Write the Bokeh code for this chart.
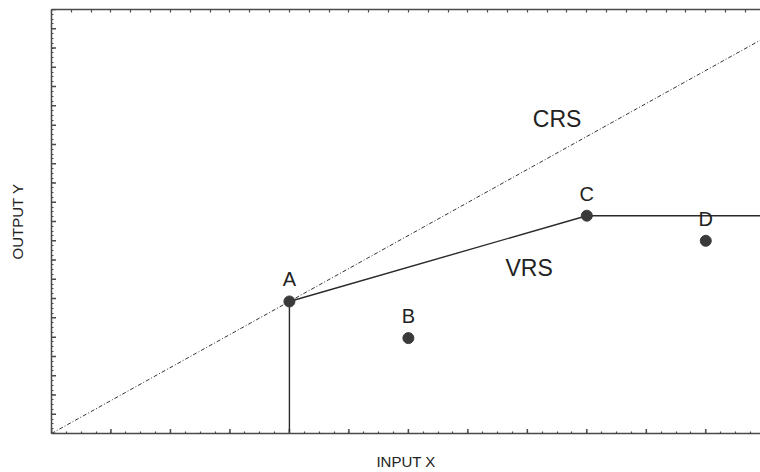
from bokeh.plotting import figure
from bokeh.models import LinearAxis, FixedTicker, Range1d, ColumnDataSource
from bokeh.core.properties import value
from bokeh.embed import file_html
from bokeh.resources import INLINE
import numpy as np

# Data
names = ["A", "B", "C", "D"]
xs = [4.0, 6.0, 9.0, 11.0]
ys = [6.85, 4.95, 11.3, 10.0]
x_max = 11.92
y_max = 22.0

# frontier (VRS): vertical from axis to A, A->C, C horizontal to edge
vrs_x = [xs[0], xs[0], xs[2], x_max]
vrs_y = [0.0, ys[0], ys[2], ys[2]]
# CRS ray through origin and A
crs_x = [0.0, x_max]
crs_y = [0.0, ys[0] / xs[0] * x_max]

region_labels = ["CRS", "VRS"]
region_x = [8.5, 8.03]
region_y = [16.3, 8.6]

x_major = list(range(0, 12))
x_minor = [i * 0.25 for i in range(0, 48)]
y_major = list(range(0, 23))
y_minor = [i * 0.25 for i in range(0, 89)]
x_top = [i / 3 for i in range(0, 36)]

FONT = "Liberation Sans"
AX = "#4a4a4a"

p = figure(width=760, height=472, output_backend="svg", toolbar_location=None,
           x_range=Range1d(0, x_max), y_range=Range1d(0, y_max),
           x_axis_location=None, y_axis_location=None,
           min_border_left=51, min_border_right=0, min_border_top=9, min_border_bottom=38)
p.outline_line_color = None
p.xgrid.visible = False
p.ygrid.visible = False
p.background_fill_color = "white"

def style_axis(ax, label=""):
    ax.axis_label = label if label else None
    ax.axis_label_text_font = FONT
    ax.axis_label_text_font_style = "normal"
    ax.axis_label_text_font_size = "15px"
    ax.axis_label_text_color = "#222222"
    ax.major_tick_out = 0
    ax.minor_tick_out = 0
    ax.major_tick_in = 0
    ax.minor_tick_in = 2
    ax.axis_line_color = AX
    ax.axis_line_width = 1.5
    ax.minor_tick_line_color = AX
    ax.minor_tick_line_width = 1.2

xb = LinearAxis(ticker=FixedTicker(ticks=[], minor_ticks=x_minor))
style_axis(xb, "INPUT X")
xb.axis_label_standoff = 19
p.add_layout(xb, "below")

yl = LinearAxis(ticker=FixedTicker(ticks=[], minor_ticks=y_minor))
style_axis(yl, "OUTPUT Y")
yl.axis_label_standoff = 26
p.add_layout(yl, "left")

xt = LinearAxis(ticker=FixedTicker(ticks=[], minor_ticks=x_top))
style_axis(xt, "")
xt.minor_tick_in = 3
p.add_layout(xt, "above")

# major tick marks (inside the frame) via dash markers centred on the axes
p.scatter(x_major, [0] * len(x_major), marker="dash", size=9, angle=np.pi / 2,
          line_color=AX, line_width=1.5)
p.scatter([0] * len(y_major), y_major, marker="dash", size=9,
          line_color=AX, line_width=1.5)

p.line(crs_x, crs_y, line_color="#333333", line_width=1, line_dash="4 2 1 2")
p.line(vrs_x, vrs_y, line_color="#2a2a2a", line_width=1.4)

src = ColumnDataSource(dict(x=xs, y=ys, name=names))
p.scatter("x", "y", source=src, size=11, fill_color="#3a3a3a", line_color="#3a3a3a")
p.text("x", "y", text="name", source=src, x_offset=0, y_offset=-11,
       text_font=value(FONT), text_font_size="20px", text_color="#222222",
       text_align="center", text_baseline="bottom")

p.text(region_x, region_y, text=region_labels, text_font=value(FONT),
       text_font_size="23px", text_color="#222222", text_align="center",
       text_baseline="middle")

open("out.html", "w").write(file_html(p, INLINE))
